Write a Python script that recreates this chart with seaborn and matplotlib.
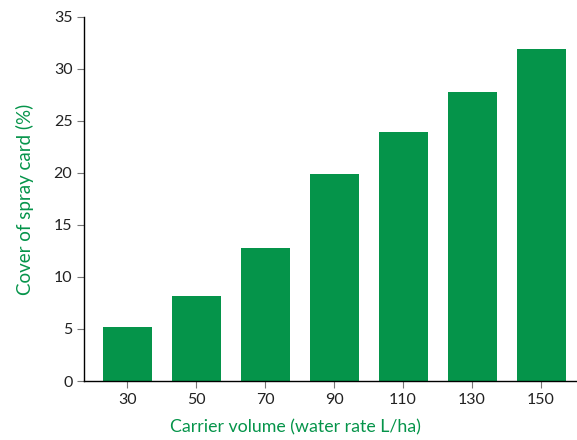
import matplotlib
matplotlib.use("Agg")
import matplotlib.pyplot as plt
import seaborn as sns
import pandas as pd

volumes = ["30", "50", "70", "90", "110", "130", "150"]
cover = [5.2, 8.2, 12.8, 19.9, 23.9, 27.8, 31.9]

green = "#05944a"

sns.set_style("ticks")
plt.rcParams["font.family"] = ["Lato", "DejaVu Sans"]

df = pd.DataFrame({"volume": volumes, "cover": cover})

fig = plt.figure(figsize=(5.77, 4.40), dpi=100)
ax = fig.add_axes([0.146, 0.134, 0.853, 0.828])
sns.barplot(data=df, x="volume", y="cover", color=green, saturation=1,
            width=0.71, linewidth=0, ax=ax)

ax.set_xlim(-0.623, 6.513)
ax.set_ylim(0, 35)
ax.set_yticks(range(0, 36, 5))
ax.set_xlabel("Carrier volume (water rate L/ha)", color=green, fontsize=12.8,
              labelpad=0)
ax.xaxis.set_label_coords(0.43, -0.105)
ax.set_ylabel("Cover of spray card (%)", color=green, fontsize=13.5,
              labelpad=14)
ax.tick_params(axis="both", labelsize=11.5, color="#777777", length=5,
               labelcolor="#222222")
for side in ["top", "right"]:
    ax.spines[side].set_visible(False)
for side in ["left", "bottom"]:
    ax.spines[side].set_color("black")
    ax.spines[side].set_linewidth(1.0)

fig.savefig("out.png", dpi=100)
